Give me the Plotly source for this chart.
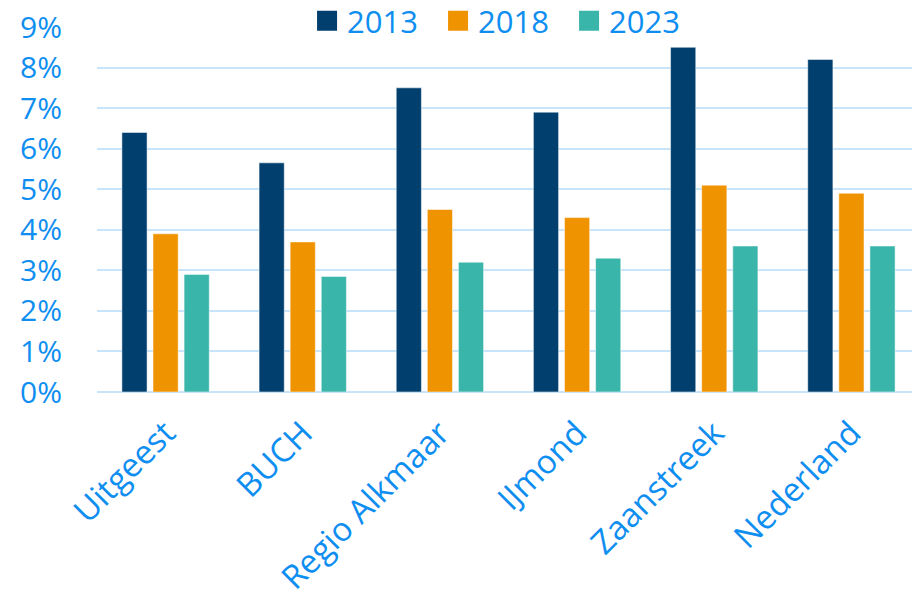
import plotly.graph_objects as go

regions = ["Uitgeest", "BUCH", "Regio Alkmaar", "IJmond", "Zaanstreek", "Nederland"]
years = ["2013", "2018", "2023"]
share_2013 = [6.4, 5.65, 7.5, 6.9, 8.5, 8.2]
share_2018 = [3.9, 3.7, 4.5, 4.3, 5.1, 4.9]
share_2023 = [2.9, 2.85, 3.2, 3.3, 3.6, 3.6]
y_ticks = list(range(0, 10))

colors = ["#003F6E", "#F09300", "#3AB5AA"]
text_blue = "#0E8EF0"
grid_blue = "#C8E4FA"
font = "Open Sans"

fig = go.Figure()
for year, vals, col in zip(years, [share_2013, share_2018, share_2023], colors):
    fig.add_trace(go.Bar(
        x=regions, y=vals, name=year, showlegend=False,
        marker=dict(color=col, line=dict(color="rgba(255,255,255,0.5)", width=1)),
    ))
    # legend proxy with a bigger square symbol
    fig.add_trace(go.Scatter(
        x=[None], y=[None], mode="markers", name=year,
        marker=dict(symbol="square", size=16, color=col, line=dict(color=col, width=4)),
    ))

# the page body has an 8px margin, so the margins below are shifted for it
fig.update_layout(
    width=920, height=594,
    margin=dict(l=89, r=8, t=19, b=210, autoexpand=False),
    plot_bgcolor="white", paper_bgcolor="white",
    barmode="group", bargap=0.32, bargroupgap=0.19,
    font=dict(family=font, size=30, color=text_blue),
    legend=dict(
        orientation="h", x=0.494, xanchor="center",
        yref="container", y=0.978, yanchor="middle",
        bgcolor="rgba(0,0,0,0)", font=dict(size=31, color=text_blue),
        itemwidth=30, entrywidth=86, entrywidthmode="pixels", tracegroupgap=0,
    ),
)
fig.update_xaxes(
    tickangle=-45, showgrid=False, showline=False, ticks="", automargin=False,
    tickfont=dict(size=33, color=text_blue), ticklabelstandoff=14,
)
fig.update_yaxes(
    range=[0, 9], tickvals=y_ticks, ticktext=[f"{v}%" for v in y_ticks],
    showgrid=True, gridcolor=grid_blue, gridwidth=2, automargin=False,
    zeroline=True, zerolinecolor=grid_blue, zerolinewidth=2,
    tickfont=dict(size=30, color=text_blue), ticklabelstandoff=34,
    ticklabeloverflow="allow",
)

fig.write_html("out.html")
